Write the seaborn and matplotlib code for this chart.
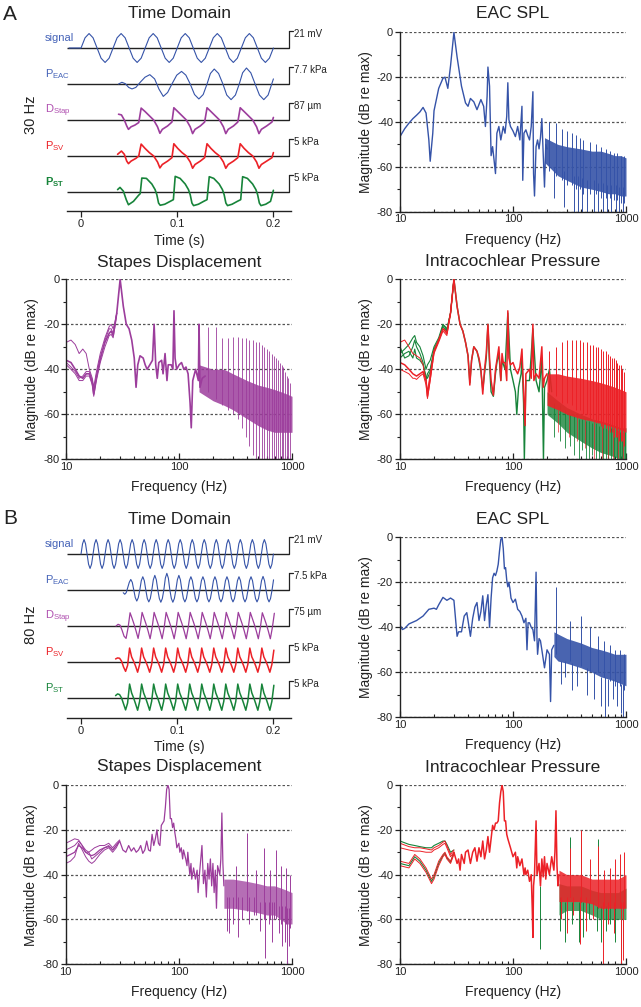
import numpy as np
import matplotlib
matplotlib.use("Agg")
import matplotlib.pyplot as plt
from matplotlib.ticker import FixedLocator, NullFormatter
import seaborn as sns

W, H = 641, 1007

BLUE = '#3553a8'
BLUE_TXT = '#4563b8'
PURPLE = '#9c3d9c'
PURPLE_TXT = '#b050b0'
RED = '#ec2127'
GREEN = '#17843a'
INK = '#222222'

# ---------------- time domain, 30 Hz (A) ----------------
# signal sampled every 1/240 s starting at -0.0125 s
SIG_A_T0, SIG_A_DT = -0.0125, 1 / 240
SIG_A_V = [0, 0, 0,
           0, .6, .85, .6, 0, -.6, -.85, -.6,
           0, .6, .85, .6, 0, -.6, -.85, -.6,
           0, .6, .85, .6, 0, -.6, -.85, -.6,
           0, .6, .85, .6, 0, -.6, -.85, -.6,
           0, .6, .85, .6, 0, -.6, -.85, -.6,
           0, .6, .85, .6, 0, -.6, -.85, -.6,
           0]

PEAC_A_T = [.039, .0425, .046, .0495, .053, .057, .0615, .0665, .0715, .0765, .081, .0855,
            .090, .0945, .0995, .1045, .109, .1135, .118, .1225, .127, .131, .1345, .1385,
            .143, .1475, .1515, .156, .1605, .1645, .168, .172, .1765, .181, .1855, .190,
            .1945, .2]
PEAC_A_V = [0, .1, .02, -.2, -.29, -.2, .1, .4, .55, .3, -.3, -.73,
            -.5, 0, .52, .74, .52, 0, -.62, -.88, -.62, 0, .62, .88,
            .62, 0, -.65, -.92, -.65, 0, .66, .94, .66, 0, -.65, -.92,
            -.65, .3]

DSTAP_A_T = [.039, .042, .045, .0475, .0493, .052, .056, .060, .0625,
             .0665, .071, .0755, .0795, .082, .0845, .090, .0945, .0965,
             .1005, .105, .1095, .1135, .116, .1185, .124, .1285, .131,
             .135, .1395, .144, .148, .1505, .153, .1585, .163, .1655,
             .1695, .174, .1785, .1825, .185, .1875, .193, .1985, .2]
DSTAP_A_V = [.34, .3, 0, -.35, -.55, -.4, -.3, -.15, .7,
             .5, .25, 0, -.4, -.78, -.55, -.35, -.12, .72,
             .5, .25, 0, -.4, -.8, -.55, -.35, -.12, .72,
             .5, .25, 0, -.4, -.8, -.55, -.35, -.12, .72,
             .5, .25, 0, -.4, -.8, -.55, -.35, -.12, .15]

PSV_A_T = [.038, .042, .045, .0475, .0493, .052, .057, .060, .0625,
           .0665, .071, .0755, .0795, .082, .0845, .090, .0945, .0965,
           .1005, .105, .1095, .1135, .116, .1185, .124, .1285, .131,
           .135, .1395, .144, .148, .1505, .153, .1585, .163, .1655,
           .1695, .174, .1785, .1825, .185, .1875, .193, .1985, .2]
PSV_A_V = [.1, .29, .1, -.3, -.45, -.3, -.14, 0, .7,
           .45, .2, 0, -.35, -.7, -.5, -.3, -.1, .72,
           .45, .2, 0, -.35, -.72, -.5, -.3, -.1, .72,
           .45, .2, 0, -.35, -.72, -.5, -.3, -.1, .72,
           .45, .2, 0, -.35, -.72, -.5, -.3, -.1, .2]

PST_A_T = [.038, .0405, .044, .047, .0493, .0545, .0597, .0615, .0632,
           .068, .0736, .077, .0788, .0806, .0823, .087, .0927, .096, .0979,
           .103, .1083, .1117, .1135, .1153, .117, .122, .1275, .131, .1333,
           .138, .1436, .147, .1488, .1506, .1523, .157, .1625, .166, .168,
           .173, .1784, .1818, .1836, .1854, .1871, .192, .197, .2]
PST_A_V = [.14, .27, .05, -.45, -.75, -.55, -.2, -.1, .82,
           .8, .47, .14, -.16, -.65, -.78, -.72, -.55, -.45, .92,
           .8, .47, .14, -.16, -.65, -.8, -.72, -.55, -.45, .9,
           .8, .47, .14, -.16, -.65, -.8, -.72, -.55, -.45, .9,
           .8, .47, .14, -.16, -.65, -.8, -.72, -.55, .1]

# ---------------- time domain, 80 Hz (B) ----------------
SIG_B_T0, SIG_B_DT = 0.0, 0.0125 / 8
SIG_B_V = [0, .6, .85, .6, 0, -.6, -.85, -.6,
           0, .6, .85, .6, 0, -.6, -.85, -.6,
           0, .6, .85, .6, 0, -.6, -.85, -.6,
           0, .6, .85, .6, 0, -.6, -.85, -.6,
           0, .6, .85, .6, 0, -.6, -.85, -.6,
           0, .6, .85, .6, 0, -.6, -.85, -.6,
           0, .6, .85, .6, 0, -.6, -.85, -.6,
           0, .6, .85, .6, 0, -.6, -.85, -.6,
           0, .6, .85, .6, 0, -.6, -.85, -.6,
           0, .6, .85, .6, 0, -.6, -.85, -.6,
           0, .6, .85, .6, 0, -.6, -.85, -.6,
           0, .6, .85, .6, 0, -.6, -.85, -.6,
           0, .6, .85, .6, 0, -.6, -.85, -.6,
           0, .6, .85, .6, 0, -.6, -.85, -.6,
           0, .6, .85, .6, 0, -.6, -.85, -.6,
           0, .6, .85, .6, 0, -.6, -.85, -.6,
           0]

PEAC_B_T0, PEAC_B_DT = 0.0439, 0.0125 / 8
PEAC_B_V = [-.16, -.25, -.15, .15, .45, .62,
            .45, 0, -.45, -.65, -.45, 0, .55, .78,
            .55, 0, -.5, -.7, -.5, 0, .6, .86,
            .6, 0, -.5, -.72, -.5, 0, .7, .98,
            .7, 0, -.5, -.72, -.5, 0, .6, .86,
            .6, 0, -.5, -.7, -.5, 0, .55, .78,
            .55, 0, -.5, -.7, -.5, 0, .55, .78,
            .55, 0, -.5, -.7, -.5, 0, .55, .78,
            .55, 0, -.5, -.7, -.5, 0, .55, .78,
            .55, 0, -.5, -.7, -.5, 0, .55, .78,
            .55, 0, -.5, -.7, -.5, 0, .55, .78,
            .55, 0, -.5, -.7, -.5, 0, .55, .8,
            .55, 0, -.5, -.7, -.5, 0,
            .6]

SAW_B_DT = 0.0125 / 6
DSTAP_B_T0 = 0.0364
DSTAP_B_V = [0, .1, .05, -.25, -.6, -.73, -.1,
             .78, .45, .1, -.3, -.73, -.1,
             .8, .45, .1, -.3, -.75, -.1,
             .8, .45, .1, -.3, -.75, -.1,
             .8, .45, .1, -.3, -.75, -.1,
             .8, .45, .1, -.3, -.75, -.1,
             .8, .45, .1, -.3, -.75, -.1,
             .8, .45, .1, -.3, -.75, -.1,
             .8, .45, .1, -.3, -.75, -.1,
             .8, .45, .1, -.3, -.75, -.1,
             .8, .45, .1, -.3, -.75, -.1,
             .8, .45, .1, -.3, -.75, -.1,
             .78, .45, .1, -.3, -.75, -.1,
             .75]

PSV_B_T0 = 0.0359
PSV_B_V = [.18, .24, .22, .05, -.3, -.55, -.2,
           .82, .3, .05, -.25, -.6, -.15,
           .82, .3, .05, -.25, -.6, -.15,
           .82, .3, .05, -.25, -.6, -.15,
           .82, .3, .05, -.25, -.6, -.15,
           .82, .3, .05, -.25, -.6, -.15,
           .82, .3, .05, -.25, -.6, -.15,
           .82, .3, .05, -.25, -.6, -.15,
           .82, .3, .05, -.25, -.6, -.15,
           .82, .3, .05, -.25, -.6, -.15,
           .82, .3, .05, -.25, -.6, -.15,
           .82, .3, .05, -.25, -.6, -.15,
           .82, .3, .05, -.25, -.6, -.15,
           .7]

PST_B_T0 = 0.0359
PST_B_V = [.14, .24, .2, 0, -.35, -.7, -.3,
           .82, .3, 0, -.35, -.72, -.2,
           .82, .3, 0, -.35, -.72, -.2,
           .82, .3, 0, -.35, -.72, -.2,
           .82, .3, 0, -.35, -.72, -.2,
           .82, .3, 0, -.35, -.72, -.2,
           .82, .3, 0, -.35, -.72, -.2,
           .82, .3, 0, -.35, -.72, -.2,
           .82, .3, 0, -.35, -.72, -.2,
           .82, .3, 0, -.35, -.72, -.2,
           .82, .3, 0, -.35, -.72, -.2,
           .82, .3, 0, -.35, -.72, -.2,
           .82, .3, 0, -.35, -.72, -.2,
           .75]

# ---------------- spectra, 30 Hz (A) ----------------
EAC_A_F = [10, 11, 12, 13, 14, 15, 16, 17, 18, 18.5, 19.5, 20, 22, 24, 25, 26.5, 28, 30, 32, 35,
           38, 40, 42, 45, 48, 52, 55, 57, 59, 60, 62, 64, 66, 68, 70, 72, 75, 78, 82, 85,
           88, 90, 92, 95, 100, 105, 110, 115, 120, 122, 125, 130, 135, 140, 145, 150, 152, 155,
           160, 165, 170, 175, 180, 185, 190, 195, 200]
EAC_A_DB = [-46.5, -43, -40.5, -38.5, -37, -35.5, -33.5, -36, -48, -57.5, -45, -35, -25, -20.5,
            -20, -25, -15, 0, -11, -24, -31.5, -33, -29.5, -31, -34.5, -30, -33, -42, -28.5,
            -15.5, -24, -55, -51, -57, -63, -45, -42, -48, -42, -45, -37.5, -22.5, -39, -42,
            -44, -46.5, -42, -48, -33, -66, -45, -43.5, -46, -48, -42, -26.5, -63, -73, -51,
            -48, -52, -47, -38.5, -54, -69, -50, -52]
EAC_A_BAND_F = [190, 250, 300, 400, 500, 600, 700, 800, 900, 1000]
EAC_A_BAND_HI = [-47, -50, -51, -52, -53, -53, -54, -55, -55, -56]
EAC_A_BAND_LO = [-58, -64, -66, -69, -70, -71, -72, -72, -73, -73]
EAC_A_SPK_F = [210, 240, 270, 300, 330, 360, 390, 420, 480, 540, 600, 660, 720, 780, 840, 900, 960,
               230, 285, 345, 375, 410, 455, 520, 560, 620, 680, 740, 810, 870, 940, 990]
EAC_A_SPK_HI = [-40, -40.5, -43, -44, -45, -46, -47, -48, -49, -50, -51, -52, -53, -54, -54, -55, -55,
                -60, -62, -64, -64, -65, -66, -66, -67, -67, -68, -68, -68, -69, -69, -70]
EAC_A_SPK_LO = [-62, -64, -66, -68, -68, -70, -70, -72, -72, -72, -74, -74, -74, -75, -75, -76, -76,
                -74, -78, -80, -80, -80, -80, -80, -80, -80, -80, -80, -80, -80, -80, -80]

STAP_A_F = [10, 11, 12, 13, 14, 15, 16, 17, 17.5, 18.5, 20, 22, 24, 25, 26, 27, 28, 30, 32, 34,
            36, 38, 40, 41.5, 43, 45, 48, 50, 52, 55, 58, 60, 62, 64, 66, 70, 72, 75, 78, 80,
            85, 88, 90, 92, 95, 100, 105, 110, 115, 120, 125, 128, 132, 140, 148, 150, 153, 160, 170]
STAP_A_DB = [-36, -37, -40, -43, -44, -42, -42, -46, -51, -43, -35, -28, -24, -23, -25, -20, -15,
             0, -12, -20, -22, -27, -35, -48, -38, -34, -35, -38, -40, -38, -36, -20, -38, -44,
             -37, -36, -42, -33, -45, -38, -38, -40, -14, -35, -40, -38, -37, -40, -39, -42, -55,
             -66, -45, -40, -45, -20, -48, -44, -43]
STAP_A_ALT_F = [10, 11, 12, 13, 14, 15, 16, 17, 17.5, 18.5, 20, 22, 24, 25, 26, 27, 28]
STAP_A_ALT1 = [-28, -27, -29, -33, -31, -33, -40, -44, -48, -41, -33, -26, -21, -20, -22, -19, -15]
STAP_A_ALT2 = [-38, -40, -42, -45, -45, -43, -43, -47, -52, -45, -37, -30, -25, -24.5, -26, -21, -15]
STAP_A_ALT3 = [-37, -39, -41, -44, -43, -41, -41, -45, -50, -44, -36, -27, -22, -22, -24, -20, -15]
STAP_A_BAND_F = [150, 200, 250, 300, 400, 500, 600, 700, 800, 900, 1000]
STAP_A_BAND_HI = [-38, -40, -40, -42, -45, -47, -48, -49, -50, -51, -52]
STAP_A_BAND_LO = [-50, -54, -56, -58, -62, -65, -67, -68, -68, -68, -68]
STAP_A_SPK_F = [180, 210, 240, 270, 300, 330, 360, 390, 420, 450, 480, 510, 540, 570, 600, 630, 660,
                690, 720, 750, 780, 810, 840, 870, 900, 930, 960, 990]
STAP_A_SPK_HI = [-21, -21, -26, -26, -25.5, -25.5, -26, -26, -27, -27, -28, -28, -29, -30, -31, -32,
                 -33, -34, -35, -36, -37, -38, -39, -41, -43, -44, -46, -47]
STAP_A_SPK_LO = [-50, -53, -56, -58, -60, -62, -66, -70, -74, -78, -80, -80, -80, -80, -80, -80,
                 -80, -80, -80, -80, -80, -80, -80, -80, -80, -80, -80, -80]

INTRA_A_F = [10, 11, 12, 13, 14, 15, 16, 17, 17.5, 18.5, 20, 22, 24, 25, 26, 28, 30, 32, 34, 36,
             38, 40, 41.5, 43, 45, 48, 50, 52, 54, 56, 58, 60, 62, 64, 67, 70, 72, 75, 78, 80,
             82, 85, 88, 90, 92, 95, 100, 105, 110, 115, 120, 123, 128, 130, 140, 145, 150, 153,
             160, 170, 180, 185, 190, 200]
INTRA_A_RED = [-37, -38, -40, -42, -43, -42, -41, -45, -52, -44, -32, -27, -22, -23, -24, -15, 0,
               -12, -20, -23, -28, -34, -47, -36, -30, -32, -35, -40, -51, -40, -33, -20, -35,
               -45, -51.5, -40, -36, -30, -45, -33, -37, -37, -45, -14, -35, -38, -37, -40, -42,
               -39, -31, -45, -65, -42, -40, -44, -20, -45, -42, -44, -30, -48, -44, -42]
INTRA_A_LOW_F = [10, 11, 12, 13, 13.5, 14, 15, 16, 17, 17.5, 18.5, 20, 22, 24, 25, 26, 28, 30]
INTRA_A_RED_UP = [-28, -27, -30, -33, -33.5, -34, -35, -38, -45, -50, -42, -32, -27, -22, -22.5, -24, -15, 0]
INTRA_A_RED_DN = [-40, -41, -42, -44, -44, -44.5, -43, -42, -47, -53, -45, -33, -28, -23, -24, -25, -15, 0]
INTRA_A_GRN_1 = [-33, -31, -29, -26, -25, -28, -30, -34, -40, -38, -36, -30, -26, -20, -21, -22, -15, 0]
INTRA_A_GRN_2 = [-30, -35, -34, -30, -27, -30, -33, -37, -45, -42, -40, -31, -27, -20.5, -21, -23, -15, 0]
INTRA_A_GRN_3 = [-35, -33, -32, -35, -31, -35, -36, -38, -43, -44, -41, -32, -27, -21, -22, -23, -15, 0]
INTRA_A_GRN_F = [30, 32, 34, 36, 38, 40, 41.5, 43, 45, 48, 50, 52, 54, 56, 58, 60, 62, 64, 67, 70,
                 72, 75, 78, 80, 85, 90, 95, 100, 105, 108, 112, 118, 120, 124, 126, 130, 140, 150,
                 160, 170, 180, 186, 190, 200, 210, 220]
INTRA_A_GRN = [0, -12, -20, -23, -28, -34, -46, -36, -30, -32, -36, -41, -49, -42, -35, -20, -38,
               -50, -52, -42, -37, -33, -45, -36, -40, -15, -40, -45, -50, -60, -48, -42, -35, -55,
               -80, -45, -45, -22, -45, -50, -35, -80, -48, -45, -40, -50]
INTRA_A_BAND_F = [200, 250, 300, 400, 500, 600, 700, 800, 900, 1000]
INTRA_A_RBAND_HI = [-42, -42, -43, -44, -45, -46, -47, -48, -49, -50]
INTRA_A_RBAND_LO = [-56, -58, -60, -62, -63, -64, -65, -66, -67, -68]
INTRA_A_GBAND_HI = [-50, -54, -57, -60, -62, -63, -64, -65, -66, -66]
INTRA_A_GBAND_LO = [-60, -64, -68, -72, -75, -77, -78, -79, -80, -80]
INTRA_A_SPK_F = [210, 240, 270, 300, 330, 360, 390, 420, 450, 480, 510, 540, 570, 600, 630, 660,
                 690, 720, 750, 780, 810, 840, 870, 900, 930, 960, 990]
INTRA_A_SPK_HI = [-32, -30, -28, -27, -27, -27, -27, -28, -28, -29, -29, -30, -30, -31, -32, -32,
                  -33, -34, -35, -35, -36, -37, -38, -38, -40, -41, -42]
INTRA_A_SPK_LO = [-50, -52, -55, -55, -56, -58, -58, -60, -60, -62, -62, -64, -64, -65, -66, -66,
                  -67, -68, -68, -70, -70, -70, -72, -72, -72, -74, -75]
INTRA_A_RDIP_F = [250, 310, 370, 430, 520, 610, 690, 760, 850, 950]
INTRA_A_RDIP_HI = [-58, -60, -60, -62, -63, -64, -65, -66, -67, -68]
INTRA_A_RDIP_LO = [-68, -70, -72, -75, -80, -80, -80, -80, -80, -80]
INTRA_A_GDIP_F = [230, 260, 290, 320, 350, 380, 410, 440, 470, 500, 540, 580, 620, 660, 700, 740,
                  780, 830, 880, 930, 980]
INTRA_A_GDIP_HI = [-55, -56, -58, -60, -60, -62, -62, -63, -63, -64, -64, -65, -65, -66, -66, -66,
                   -67, -67, -68, -68, -68]
INTRA_A_GDIP_LO = [-70, -72, -75, -74, -78, -80, -76, -80, -80, -78, -80, -80, -80, -80, -80, -80,
                   -80, -80, -80, -80, -80]

# ---------------- spectra, 80 Hz (B) ----------------
EAC_B_F = [10, 10.5, 11, 12, 14, 16, 18, 20, 21, 22, 24, 26, 28, 30, 32, 33, 35, 37, 39, 40,
           42, 44, 46, 48, 50, 52, 54, 56, 58, 60, 62, 64, 66, 68, 70, 72, 74, 76, 78, 80,
           82, 84, 86, 88, 90, 92, 94, 96, 98, 100, 105, 110, 115, 120, 125, 130, 133, 136, 140,
           145, 150, 155, 160, 163, 165, 170, 175, 180, 190, 200, 210, 215, 220, 230]
EAC_B_DB = [-39, -41, -40.5, -38.5, -37, -35, -32, -31.5, -32, -30, -26.7, -28, -27, -28, -44,
            -42, -42, -35, -33.5, -37, -44, -36, -31, -29, -37, -33, -26, -37, -30, -25.5, -40,
            -27, -18, -16, -17, -15, -12, -6, -1, 0, -5, -14, -13.5, -19, -22, -20, -23, -27,
            -28, -29, -27.5, -32, -33, -35, -38, -36, -50, -38, -38, -40, -41, -46, -15.5, -45,
            -52, -45, -46, -50, -58, -50, -52, -73, -50, -48]
EAC_B_BAND_F = [230, 250, 300, 400, 500, 600, 700, 800, 900, 1000]
EAC_B_BAND_HI = [-42, -43, -45, -47, -49, -50, -51, -52, -52, -52]
EAC_B_BAND_LO = [-53, -55, -56, -58, -60, -62, -63, -64, -65, -66]
EAC_B_SPK_F = [240, 320, 400, 480, 560, 640, 720, 800, 880, 960,
               265, 290, 330, 370, 450, 520, 600, 650, 700, 760, 830, 900, 950, 990]
EAC_B_SPK_HI = [-22, -37, -35, -40, -44, -46, -48, -50, -50, -52,
                -55, -55, -56, -57, -58, -60, -62, -62, -63, -63, -64, -65, -65, -66]
EAC_B_SPK_LO = [-52, -55, -57, -60, -60, -62, -64, -66, -66, -68,
                -65, -62, -68, -66, -70, -72, -75, -82, -75, -72, -75, -78, -82, -78]

STAP_B_F = [10, 11, 12, 13, 14, 15, 16, 17, 18, 20, 22, 24, 25, 26, 28, 30, 32, 34, 36, 38,
            40, 42, 44, 46, 48, 50, 52, 54, 56, 58, 60, 62, 64, 66, 68, 70, 72, 74, 76, 78,
            80, 82, 84, 86, 88, 90, 92, 94, 96, 98, 100, 102, 105, 108, 110, 115, 118, 120, 125,
            128, 130, 135, 140, 145, 148, 152, 160, 165, 170, 175, 180, 185, 190, 195, 200, 205,
            210, 215, 220, 230, 235, 240, 245, 250]
STAP_B_DB = [-32, -31, -30, -27, -28, -30, -31, -31.5, -31, -29, -28, -27.5, -28, -29, -27, -25,
             -29, -30, -27, -29.5, -28, -30, -29, -27, -30.5, -29, -25, -29, -29.5, -22, -27,
             -24, -20, -26, -27, -18, -17, -16, -10, -2, 0, -2, -15, -15, -19, -17, -21, -24,
             -28, -27, -26, -30, -28, -33, -29, -33, -36, -30, -40, -35, -42, -37, -42, -38,
             -48, -40, -27, -44, -38, -50, -35, -42, -33, -45, -35, -48, -38, -55, -36, -40,
             -33, -12.5, -35, -45]
STAP_B_ALT_F = [10, 11, 12, 13, 14, 15, 16, 17, 18, 20, 22, 24, 25, 26, 28, 30]
STAP_B_ALT1 = [-26, -25, -24, -24.5, -27, -30, -30, -29, -28, -27, -27, -26, -27, -28, -26, -24.5]
STAP_B_ALT2 = [-35, -34, -32, -26, -29, -32, -34, -35, -34, -31, -29, -28, -29, -30, -28, -25]
STAP_B_ALT3 = [-29, -28, -27, -25, -27, -29, -30, -33, -32, -30, -28, -27, -28, -29, -27, -25]
STAP_B_BAND_F = [250, 300, 400, 500, 600, 700, 800, 900, 1000]
STAP_B_BAND_HI = [-42, -42, -43, -44, -45, -45, -46, -47, -48]
STAP_B_BAND_LO = [-55, -55, -56, -57, -58, -58, -60, -62, -62]
STAP_B_SPK_F = [320, 400, 480, 560, 640, 720, 800, 880, 960,
                265, 280, 300, 330, 360, 420, 460, 520, 580, 620, 660, 700, 760, 820, 870, 900, 950]
STAP_B_SPK_HI = [-36, -21.5, -38, -28, -38, -29, -36, -37, -40,
                 -50, -50, -50, -50, -50, -50, -50, -52, -52, -52, -52, -52, -54, -54, -54, -55, -55]
STAP_B_SPK_LO = [-55, -56, -58, -60, -60, -60, -62, -62, -64,
                 -65, -66, -62, -68, -60, -62, -58, -65, -77, -62, -70, -60, -66, -72, -70, -80, -72]

INTRA_B_LOW_F = [10, 12, 13.5, 15, 17, 19, 20, 22, 24, 25, 26, 28, 30]
INTRA_B_RED_UP1 = [-26, -27.5, -28, -28, -28.5, -29, -28, -27, -25.5, -25, -27, -31, -29]
INTRA_B_RED_UP2 = [-28, -29, -29.5, -29.5, -30, -30, -29, -28, -26.5, -26, -28, -32, -30]
INTRA_B_RED_DN1 = [-34, -35, -31, -33, -37, -42, -40, -34, -31, -30, -32, -34, -30]
INTRA_B_RED_DN2 = [-36, -37, -33, -35, -39, -44, -42, -36, -32, -31, -33, -35, -31]
INTRA_B_GRN_UP = [-25, -26.5, -27, -27.5, -28, -28, -27, -26, -25, -25, -26.5, -30, -29]
INTRA_B_GRN_DN = [-35, -36, -32, -34, -38, -43, -41, -35, -31.5, -30.5, -32.5, -34.5, -30]
INTRA_B_F = [30, 32, 33, 34, 35, 37, 38, 40, 42, 44, 46, 48, 50, 52, 54, 56, 58, 60, 62, 64,
             66, 68, 70, 72, 74, 76, 78, 80, 82, 84, 86, 88, 90, 95, 100, 105, 108, 110, 115, 120,
             125, 128, 130, 135, 140, 145, 148, 150, 152, 155, 160, 163, 170, 175, 180, 185, 190,
             195, 200, 210, 220, 230, 235, 240, 245, 250, 255]
INTRA_B_RED = [-30, -35, -33, -38, -31, -35, -30, -29, -35, -30, -28, -34, -28, -32, -25, -33,
               -29, -23, -30, -24, -18, -20, -17, -17, -16, -8, -3, 0, -3, -16, -16, -22, -24,
               -28, -32, -30, -37, -32, -36, -33, -40, -37, -40, -38, -43, -40, -55, -68, -45,
               -40, -16, -40, -35, -45, -33, -41, -32, -42, -35, -40, -32, -38, -30, -11.5, -36,
               -45, -40]
INTRA_B_BAND_F = [255, 300, 400, 500, 600, 700, 850, 1000]
INTRA_B_RBAND_HI = [-38, -40, -40, -42, -42, -42, -42, -40]
INTRA_B_RBAND_LO = [-52, -52, -52, -53, -55, -55, -55, -55]
INTRA_B_GBAND_HI = [-44, -45, -45, -47, -48, -48, -48, -46]
INTRA_B_GBAND_LO = [-58, -56, -56, -58, -60, -60, -60, -60]
INTRA_B_RSPK_F = [320, 400, 480, 560, 640, 720, 800, 880, 960,
                  150, 268, 300, 340, 390, 440, 510, 620, 690, 780, 900, 940]
INTRA_B_RSPK_HI = [-28, -20, -33, -27, -38, -37, -33, -31, -30,
                   -45, -50, -50, -50, -50, -50, -52, -52, -52, -52, -52, -52]
INTRA_B_RSPK_LO = [-50, -52, -52, -55, -55, -55, -55, -55, -55,
                   -68, -60, -66, -58, -71, -65, -60, -80, -62, -66, -80, -78]
INTRA_B_GSPK_F = [320, 400, 560, 175, 260, 290, 330, 380, 420, 470, 550, 600, 660, 720, 800, 900, 950]
INTRA_B_GSPK_HI = [-23, -21, -24, -45, -50, -52, -52, -52, -52, -52, -54, -54, -54, -54, -54, -54, -54]
INTRA_B_GSPK_LO = [-50, -52, -55, -73, -65, -70, -62, -70, -68, -60, -65, -70, -65, -62, -70, -80, -73]


def px_axes(fig, left, top, right, bottom):
    return fig.add_axes([left / W, 1 - bottom / H, (right - left) / W, (bottom - top) / H])


def line(ax, x, y, color, lw=0.9, alpha=1.0, z=3):
    sns.lineplot(x=np.asarray(x, float), y=np.asarray(y, float), ax=ax, color=color, lw=lw,
                 alpha=alpha, estimator=None, sort=False, legend=False, zorder=z)


def band(ax, f, lo, hi, color, alpha=0.9, z=2):
    ax.fill_between(f, lo, hi, color=color, alpha=alpha, lw=0, zorder=z)


def spikes(ax, f, lo, hi, color, lw=0.7, z=2, alpha=1.0):
    ax.vlines(f, lo, hi, color=color, lw=lw, zorder=z, alpha=alpha)


def finish_spectrum(ax, title, title_y):
    ax.set_xscale('log')
    ax.set_xlim(10, 1000)
    ax.set_ylim(-80, 0)
    ax.set_xticks([10, 100, 1000])
    ax.set_xticklabels(['10', '100', '1000'])
    ax.xaxis.set_minor_locator(FixedLocator([20, 30, 40, 50, 60, 70, 80, 90,
                                             200, 300, 400, 500, 600, 700, 800, 900]))
    ax.xaxis.set_minor_formatter(NullFormatter())
    ax.set_yticks([0, -20, -40, -60, -80])
    ax.set_yticklabels(['0', '-20', '-40', '-60', '-80'])
    ax.set_yticks([-10, -30, -50, -70], minor=True)
    ax.tick_params(axis='x', which='major', direction='in', length=4, width=0.9, pad=2,
                   labelsize=8, colors=INK)
    ax.tick_params(axis='x', which='minor', direction='in', length=2.5, width=0.8, colors=INK)
    ax.tick_params(axis='y', which='major', direction='out', length=3.5, width=0.9, pad=1.5,
                   labelsize=8, colors=INK)
    ax.tick_params(axis='y', which='minor', direction='out', length=2, width=0.8, colors=INK)
    ax.grid(True, axis='y', which='major', color='#555555', lw=0.9, ls=(0, (2, 1.6)), zorder=1)
    ax.grid(False, axis='x')
    for side in ('top', 'right'):
        ax.spines[side].set_visible(False)
    for side in ('left', 'bottom'):
        ax.spines[side].set_color(INK)
        ax.spines[side].set_linewidth(1.0)
        ax.spines[side].set_zorder(5)
    ax.set_xlabel('Frequency (Hz)', fontsize=10, labelpad=6, color=INK)
    ax.set_ylabel('Magnitude (dB re max)', fontsize=10, labelpad=3, color=INK)
    ax.set_facecolor('white')
    bb = ax.get_position()
    ax.figure.text((bb.x0 + bb.x1) / 2, 1 - title_y / H, title, ha='center', va='center',
                   fontsize=12.5, color=INK)


def time_panel(fig, top, bottom, traces, scales, labels, title, title_y, freq_text, freq_y):
    ax = px_axes(fig, 67, top, 291, bottom)
    unit = 17.0
    x_end = 0.2162
    for i, (t, v, color, lw) in enumerate(traces):
        off = -i * 36 / unit
        ax.hlines(off, -0.0146, x_end, color=INK, lw=1.0, zorder=1)
        line(ax, t, np.asarray(v, float) + off, color, lw=lw, z=3)
        ax.plot([x_end, x_end], [off, off + 1], color=INK, lw=0.9, clip_on=False)
        ax.plot([x_end, x_end + 0.004], [off + 1, off + 1], color=INK, lw=0.9, clip_on=False)
        ax.text(x_end + 0.0055, off + 0.85, scales[i], fontsize=7, ha='left', va='center',
                color=INK, clip_on=False)
        txt, tcol = labels[i]
        ax.text(-0.0379, off + 0.56, txt, fontsize=8, ha='left', va='center', color=tcol,
                clip_on=False)
    ax.set_xlim(-0.0146, 0.2183)
    ax.set_ylim(-(bottom - top - 24) / unit, 24 / unit)
    ax.set_yticks([])
    ax.set_xticks([0, 0.1, 0.2])
    ax.set_xticklabels(['0', '0.1', '0.2'])
    ax.tick_params(axis='x', direction='out', length=4, width=0.9, pad=2, labelsize=8, colors=INK)
    for side in ('top', 'right', 'left'):
        ax.spines[side].set_visible(False)
    ax.spines['bottom'].set_color(INK)
    ax.spines['bottom'].set_linewidth(1.0)
    ax.set_xlabel('Time (s)', fontsize=10, labelpad=3, color=INK)
    ax.set_ylabel('')
    ax.set_facecolor('none')
    fig.text(179 / W, 1 - title_y / H, title, ha='center', va='center', fontsize=12.5, color=INK)
    fig.text(31 / W, 1 - freq_y / H, freq_text, ha='center', va='center', rotation=90,
             fontsize=10.5, color=INK)
    return ax


def grid_t(t0, dt, values):
    return t0 + dt * np.arange(len(values))


sns.set_theme(style="ticks")
plt.rcParams['font.family'] = ['Liberation Sans', 'DejaVu Sans']
plt.rcParams['mathtext.fontset'] = 'custom'
plt.rcParams['mathtext.rm'] = 'Liberation Sans'
plt.rcParams['mathtext.it'] = 'Liberation Sans:italic'
plt.rcParams['mathtext.bf'] = 'Liberation Sans:bold'
plt.rcParams['axes.unicode_minus'] = False

fig = plt.figure(figsize=(W / 100, H / 100), dpi=100)
fig.patch.set_facecolor('white')

fig.text(3 / W, 1 - 14 / H, 'A', ha='left', va='center', fontsize=15, color=INK)
fig.text(3 / W, 1 - 518 / H, 'B', ha='left', va='center', fontsize=15, color=INK)

label_sets_a = [('signal', BLUE_TXT), ('P$_{\\mathrm{EAC}}$', BLUE_TXT),
                ('D$_{\\mathrm{Stap}}$', PURPLE_TXT), ('P$_{\\mathrm{SV}}$', RED),
                ('$\\mathbf{P_{ST}}$', GREEN)]
label_sets_b = [('signal', BLUE_TXT), ('P$_{\\mathrm{EAC}}$', BLUE_TXT),
                ('D$_{\\mathrm{Stap}}$', PURPLE_TXT), ('P$_{\\mathrm{SV}}$', RED),
                ('P$_{\\mathrm{ST}}$', GREEN)]

# ---- A: time domain
time_panel(fig, 24, 211,
           [(grid_t(SIG_A_T0, SIG_A_DT, SIG_A_V), SIG_A_V, BLUE, 0.8),
            (PEAC_A_T, PEAC_A_V, BLUE, 0.8),
            (DSTAP_A_T, DSTAP_A_V, PURPLE, 1.2),
            (PSV_A_T, PSV_A_V, RED, 1.2),
            (PST_A_T, PST_A_V, GREEN, 1.2)],
           ['21 mV', '7.7 kPa', '87 \u00b5m', '5 kPa', '5 kPa'],
           label_sets_a, 'Time Domain', 14, '30 Hz', 115)

# ---- A: EAC SPL
ax = px_axes(fig, 400, 32.3, 626, 211.7)
band(ax, EAC_A_BAND_F, EAC_A_BAND_LO, EAC_A_BAND_HI, BLUE, alpha=0.9)
spikes(ax, EAC_A_SPK_F, EAC_A_SPK_LO, EAC_A_SPK_HI, BLUE)
line(ax, EAC_A_F, EAC_A_DB, BLUE, lw=1.0)
finish_spectrum(ax, 'EAC SPL', 14)

# ---- A: Stapes displacement
ax = px_axes(fig, 66.3, 279.3, 292, 459.3)
band(ax, STAP_A_BAND_F, STAP_A_BAND_LO, STAP_A_BAND_HI, PURPLE, alpha=0.85)
spikes(ax, STAP_A_SPK_F, STAP_A_SPK_LO, STAP_A_SPK_HI, PURPLE, lw=0.6)
for alt in (STAP_A_ALT1, STAP_A_ALT2, STAP_A_ALT3):
    line(ax, STAP_A_ALT_F, alt, PURPLE, lw=0.7)
line(ax, STAP_A_F, STAP_A_DB, PURPLE, lw=1.2)
finish_spectrum(ax, 'Stapes Displacement', 262)

# ---- A: Intracochlear pressure
ax = px_axes(fig, 400, 279.3, 626, 459.3)
band(ax, INTRA_A_BAND_F, INTRA_A_GBAND_LO, INTRA_A_GBAND_HI, GREEN, alpha=0.8)
spikes(ax, INTRA_A_GDIP_F, INTRA_A_GDIP_LO, INTRA_A_GDIP_HI, GREEN, lw=0.6)
line(ax, INTRA_A_GRN_F, INTRA_A_GRN, GREEN, lw=1.0)
for g in (INTRA_A_GRN_1, INTRA_A_GRN_2, INTRA_A_GRN_3):
    line(ax, INTRA_A_LOW_F, g, GREEN, lw=0.8)
band(ax, INTRA_A_BAND_F, INTRA_A_RBAND_LO, INTRA_A_RBAND_HI, RED, alpha=0.9, z=3)
spikes(ax, INTRA_A_SPK_F, INTRA_A_SPK_LO, INTRA_A_SPK_HI, RED, z=3)
spikes(ax, INTRA_A_RDIP_F, INTRA_A_RDIP_LO, INTRA_A_RDIP_HI, RED, lw=0.6, z=3, alpha=0.8)
for r in (INTRA_A_RED_UP, INTRA_A_RED_DN):
    line(ax, INTRA_A_LOW_F, r, RED, lw=0.7, z=4)
line(ax, INTRA_A_F, INTRA_A_RED, RED, lw=1.1, z=4)
finish_spectrum(ax, 'Intracochlear Pressure', 262)

# ---- B: time domain
time_panel(fig, 530, 718,
           [(grid_t(SIG_B_T0, SIG_B_DT, SIG_B_V), SIG_B_V, BLUE, 0.8),
            (grid_t(PEAC_B_T0, PEAC_B_DT, PEAC_B_V), PEAC_B_V, BLUE, 0.8),
            (grid_t(DSTAP_B_T0, SAW_B_DT, DSTAP_B_V), DSTAP_B_V, PURPLE, 0.9),
            (grid_t(PSV_B_T0, SAW_B_DT, PSV_B_V), PSV_B_V, RED, 1.1),
            (grid_t(PST_B_T0, SAW_B_DT, PST_B_V), PST_B_V, GREEN, 1.1)],
           ['21 mV', '7.5 kPa', '75 \u00b5m', '5 kPa', '5 kPa'],
           label_sets_b, 'Time Domain', 519, '80 Hz', 625)

# ---- B: EAC SPL
ax = px_axes(fig, 400, 537.3, 626, 717.3)
band(ax, EAC_B_BAND_F, EAC_B_BAND_LO, EAC_B_BAND_HI, BLUE, alpha=0.9)
spikes(ax, EAC_B_SPK_F, EAC_B_SPK_LO, EAC_B_SPK_HI, BLUE)
line(ax, EAC_B_F, EAC_B_DB, BLUE, lw=1.0)
finish_spectrum(ax, 'EAC SPL', 519)

# ---- B: Stapes displacement
ax = px_axes(fig, 65.7, 785, 292, 964.3)
band(ax, STAP_B_BAND_F, STAP_B_BAND_LO, STAP_B_BAND_HI, PURPLE, alpha=0.75)
spikes(ax, STAP_B_SPK_F, STAP_B_SPK_LO, STAP_B_SPK_HI, PURPLE)
for alt in (STAP_B_ALT1, STAP_B_ALT2, STAP_B_ALT3):
    line(ax, STAP_B_ALT_F, alt, PURPLE, lw=0.7)
line(ax, STAP_B_F, STAP_B_DB, PURPLE, lw=0.9)
finish_spectrum(ax, 'Stapes Displacement', 767)

# ---- B: Intracochlear pressure
ax = px_axes(fig, 400, 785, 626, 964.3)
band(ax, INTRA_B_BAND_F, INTRA_B_GBAND_LO, INTRA_B_GBAND_HI, GREEN, alpha=0.75)
spikes(ax, INTRA_B_GSPK_F, INTRA_B_GSPK_LO, INTRA_B_GSPK_HI, GREEN)
for g in (INTRA_B_GRN_UP, INTRA_B_GRN_DN):
    line(ax, INTRA_B_LOW_F, g, GREEN, lw=0.8)
band(ax, INTRA_B_BAND_F, INTRA_B_RBAND_LO, INTRA_B_RBAND_HI, RED, alpha=0.85, z=3)
spikes(ax, INTRA_B_RSPK_F, INTRA_B_RSPK_LO, INTRA_B_RSPK_HI, RED, z=3)
for r in (INTRA_B_RED_UP1, INTRA_B_RED_UP2, INTRA_B_RED_DN1, INTRA_B_RED_DN2):
    line(ax, INTRA_B_LOW_F, r, RED, lw=0.7, z=4)
line(ax, INTRA_B_F, INTRA_B_RED, RED, lw=1.1, z=4)
finish_spectrum(ax, 'Intracochlear Pressure', 767)

fig.savefig('out.png', dpi=100, facecolor='white')
